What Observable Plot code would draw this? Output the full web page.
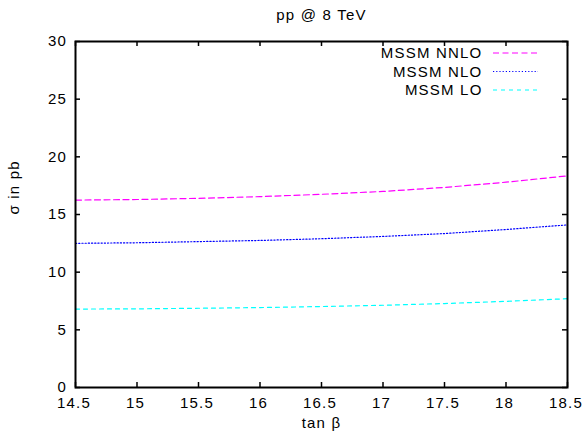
<!DOCTYPE html>
<html><head><meta charset="utf-8">
<script src="https://cdn.jsdelivr.net/npm/d3@7"></script>
<script src="https://cdn.jsdelivr.net/npm/@observablehq/plot@0.6"></script>
<style>
body{margin:0;background:#fff}
#chart svg text{letter-spacing:1.2px}
</style>
</head><body><div id="chart"></div>
<script>
const tanBeta = [14.5, 15, 15.5, 16, 16.5, 17, 17.5, 18, 18.5];
const nnlo = [16.25, 16.3, 16.4, 16.55, 16.75, 17.0, 17.35, 17.8, 18.35];
const nlo = [12.5, 12.55, 12.65, 12.75, 12.9, 13.1, 13.35, 13.7, 14.1];
const lo = [6.8, 6.82, 6.87, 6.93, 7.02, 7.13, 7.28, 7.47, 7.7];
const seriesNames = ["MSSM NNLO", "MSSM NLO", "MSSM LO"];
const seriesColors = ["#ff00ff", "#0000ff", "#00ffff"];
const seriesDash = ["6,3.5", "1.2,2", "4,4"];
const xTicks = [14.5, 15, 15.5, 16, 16.5, 17, 17.5, 18, 18.5];
const yTicks = [0, 5, 10, 15, 20, 25, 30];
const title = "pp @ 8 TeV";
const xLabel = "tan β";
const yLabel = "σ in pb";

const seriesValues = [nnlo, nlo, lo];
const rows = seriesValues.map((vals, s) => tanBeta.map((t, i) => ({series: seriesNames[s], x: t, y: vals[i]})));

const W = 582, H = 439, mL = 75, mR = 15, mT = 41, mB = 52;
const fw = W - mL - mR, fh = H - mT - mB;
const tick = 5;
const legendDy = i => 12 + i * 18.5;

function legendSamples(index, scales, values, dims) {
  const g = d3.create("svg:g");
  seriesNames.forEach((n, i) => {
    const xr = dims.width - dims.marginRight;
    const y = dims.marginTop + legendDy(i);
    g.append("line")
      .attr("x1", xr - 74).attr("x2", xr - 29)
      .attr("y1", y).attr("y2", y)
      .attr("stroke", seriesColors[i])
      .attr("stroke-width", 1.2)
      .attr("stroke-dasharray", seriesDash[i]);
  });
  return g.node();
}

const marks = [
  ...rows.map((r, s) => Plot.line(r, {x: "x", y: "y", stroke: seriesColors[s], strokeWidth: 1.2, strokeDasharray: seriesDash[s]})),
  Plot.tickX(xTicks, {x: d => d, insetTop: fh - tick, stroke: "black", strokeWidth: 1.5}),
  Plot.tickX(xTicks, {x: d => d, insetBottom: fh - tick, stroke: "black", strokeWidth: 1.5}),
  Plot.tickY(yTicks, {y: d => d, insetRight: fw - tick, stroke: "black", strokeWidth: 1.5}),
  Plot.tickY(yTicks, {y: d => d, insetLeft: fw - tick, stroke: "black", strokeWidth: 1.5}),
  Plot.axisX(xTicks, {tickSize: 0, tickPadding: 10, dx: -1.5, label: null, fontSize: 15, tickFormat: d => String(d)}),
  Plot.axisY(yTicks, {tickSize: 0, tickPadding: 8.5, label: null, fontSize: 15, tickFormat: d => String(d)}),
  Plot.frame({stroke: "black", strokeWidth: 2}),
  Plot.text([title], {text: d => d, frameAnchor: "top", dy: -32, fontSize: 15, fill: "black"}),
  Plot.text([xLabel], {text: d => d, frameAnchor: "bottom", dy: 40, fontSize: 15, fill: "black"}),
  Plot.text([yLabel], {text: d => d, frameAnchor: "left", dx: -61, rotate: -90, fontSize: 15, fill: "black"}),
  ...seriesNames.map((n, i) => Plot.text([n], {text: d => d, frameAnchor: "top-right", dx: -85, dy: legendDy(i), textAnchor: "end", lineAnchor: "middle", fontSize: 15, fill: "black"})),
  legendSamples
];

const chart = Plot.plot({
  width: W, height: H,
  marginLeft: mL, marginRight: mR, marginTop: mT, marginBottom: mB,
  style: {fontFamily: "'Liberation Sans', Arial, sans-serif", fontSize: "15px", color: "black", background: "white"},
  x: {domain: [14.5, 18.5]},
  y: {domain: [0, 30]},
  marks
});
document.getElementById("chart").append(chart);
</script>
</body></html>
